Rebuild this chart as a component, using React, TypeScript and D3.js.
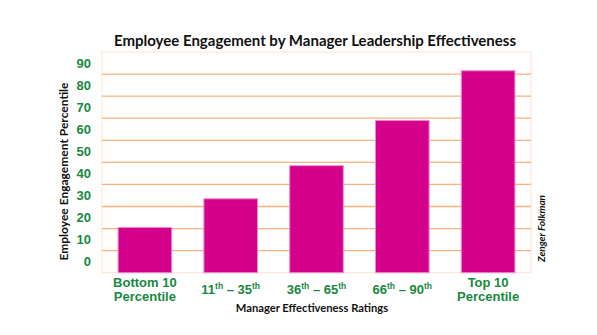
import React from "react";
import * as d3 from "d3";

const categories = ["Bottom 10 Percentile", "11th – 35th", "36th – 65th", "66th – 90th", "Top 10 Percentile"];
const values = [15.5, 28.5, 43.5, 64, 86.5];
const yTicks = [0, 10, 20, 30, 40, 50, 60, 70, 80, 90];
const gridValues = [5, 15, 25, 35, 45, 55, 65, 75, 85];

const W = 597, H = 335;
const plot = { left: 102, right: 531, top: 52, bottom: 272.7 };
const GREEN = "#17883f";
const PINK = "#d5008c";
const TITLE_FONT = "Lato, 'DejaVu Sans', sans-serif";

function XLabel({ label, x }: { label: string; x: number }) {
  const style = { fontFamily: "'Liberation Sans', Arial, sans-serif", fontWeight: 700, fontSize: 13, fill: GREEN } as const;
  if (label.includes("Percentile")) {
    const first = label.replace(" Percentile", "");
    return (
      <g>
        <text x={x} y={287} textAnchor="middle" {...style}>{first}</text>
        <text x={x} y={300.5} textAnchor="middle" {...style}>Percentile</text>
      </g>
    );
  }
  const m = label.match(/^(\d+)th – (\d+)th$/);
  if (m) {
    return (
      <text x={x} y={293.5} textAnchor="middle" {...style}>
        {m[1]}
        <tspan fontSize={8.5} dy={-4.5}>th</tspan>
        <tspan dy={4.5}> – {m[2]}</tspan>
        <tspan fontSize={8.5} dy={-4.5}>th</tspan>
      </text>
    );
  }
  return <text x={x} y={293.5} textAnchor="middle" {...style}>{label}</text>;
}

export default function App() {
  const x = d3.scaleBand<string>().domain(categories).range([plot.left, plot.right]).paddingInner(0.375).paddingOuter(0.1875);
  const y = d3.scaleLinear().domain([-5, 95]).range([plot.bottom, plot.top]);
  return (
    <svg width={W} height={H} style={{ position: "absolute", left: 0, top: 0, background: "#fff" }}>
      <rect x={plot.left} y={plot.top} width={plot.right - plot.left} height={plot.bottom - plot.top} fill="none" stroke="#fde3d2" strokeWidth={1} />
      {gridValues.map((g) => (
        <line key={g} x1={plot.left} x2={plot.right} y1={y(g)} y2={y(g)} stroke="#f9b27e" strokeWidth={1.3} />
      ))}
      {categories.map((c, i) => (
        <rect key={c} x={x(c)} y={y(values[i])} width={x.bandwidth()} height={y(-5) - y(values[i])} fill={PINK} stroke="#f08ccb" strokeWidth={1} />
      ))}
      {yTicks.map((t) => (
        <text key={t} x={91} y={y(t)} dy="0.36em" textAnchor="end" fontFamily="'Liberation Sans', Arial, sans-serif" fontWeight={700} fontSize={13} fill={GREEN}>{t}</text>
      ))}
      {categories.map((c) => (
        <XLabel key={c} label={c} x={(x(c) as number) + x.bandwidth() / 2} />
      ))}
      <text x={315} y={45.5} textAnchor="middle" fontFamily={TITLE_FONT} fontWeight={700} fontSize={15} fill="#111">Employee Engagement by Manager Leadership Effectiveness</text>
      <text transform="translate(67.5,171.5) rotate(-90)" textAnchor="middle" fontFamily={TITLE_FONT} fontWeight={700} fontSize={12} fill="#111">Employee Engagement Percentile</text>
      <text x={312} y={312} textAnchor="middle" fontFamily={TITLE_FONT} fontWeight={700} fontSize={11.2} fill="#111">Manager Effectiveness Ratings</text>
      <text transform="translate(545,228.5) rotate(-90)" textAnchor="middle" fontFamily={TITLE_FONT} fontWeight={700} fontStyle="italic" fontSize={10} fill="#111">Zenger Folkman</text>
    </svg>
  );
}
